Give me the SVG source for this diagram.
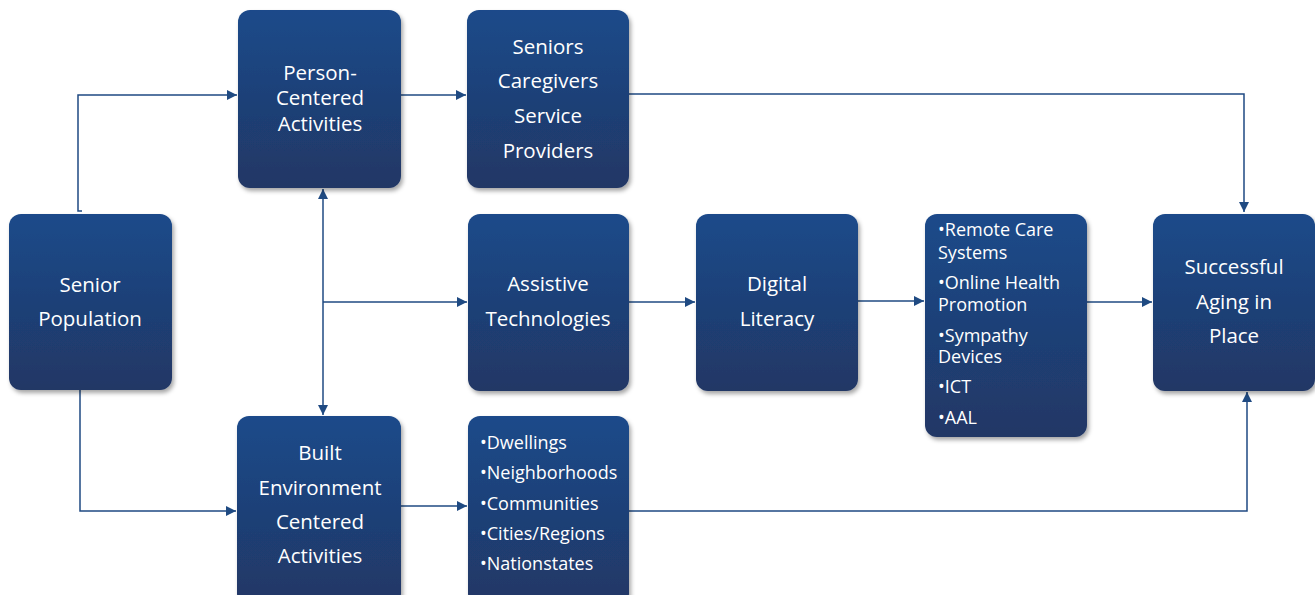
<svg xmlns="http://www.w3.org/2000/svg" width="1315" height="595" viewBox="0 0 1315 595">
<defs>
<linearGradient id="g" x1="0" y1="0" x2="0" y2="1">
<stop offset="0" stop-color="#1c4a8a"/>
<stop offset="1" stop-color="#213765"/>
</linearGradient>
<filter id="sh" x="-10%" y="-10%" width="125%" height="125%">
<feDropShadow dx="2" dy="3" stdDeviation="2" flood-color="#000" flood-opacity="0.35"/>
</filter>
<marker id="ah" viewBox="0 0 10 10" refX="10" refY="5" markerWidth="10" markerHeight="10" markerUnits="userSpaceOnUse" orient="auto-start-reverse">
<path d="M0,0 L10,5 L0,10 Z" fill="#1f4a82"/>
</marker>
<style>
.box{fill:url(#g);filter:url(#sh);}
.t{font-family:"Open Sans","Noto Sans",sans-serif;font-size:20.5px;fill:#fff;text-anchor:middle;}
.b{font-family:"Open Sans","Noto Sans",sans-serif;font-size:18px;fill:#fff;}
.c{fill:none;stroke:#1f4a82;stroke-width:1.5;}
</style>
</defs>
<rect width="1315" height="595" fill="#fff"/>
<g id="connectors">
<path class="c" d="M82,211 H78 V95 H237" marker-end="url(#ah)"/>
<path class="c" d="M80,390 V511 H236" marker-end="url(#ah)"/>
<path class="c" d="M401,95 H466" marker-end="url(#ah)"/>
<path class="c" d="M629,94 H1244 V212" marker-end="url(#ah)"/>
<path class="c" d="M323,189 V415" marker-start="url(#ah)" marker-end="url(#ah)"/>
<path class="c" d="M323,302 H467" marker-end="url(#ah)"/>
<path class="c" d="M629,302 H695" marker-end="url(#ah)"/>
<path class="c" d="M858,301 H924" marker-end="url(#ah)"/>
<path class="c" d="M1087,302 H1152" marker-end="url(#ah)"/>
<path class="c" d="M401,506 H467" marker-end="url(#ah)"/>
<path class="c" d="M629,511 H1247 V392" marker-end="url(#ah)"/>
</g>
<g id="senior-population">
<rect class="box" x="9" y="214" width="163" height="176" rx="12"/>
<text class="t" x="90" y="292">Senior</text>
<text class="t" x="90" y="326">Population</text>
</g>
<g id="person-centered">
<rect class="box" x="238" y="10" width="163" height="178" rx="12"/>
<text class="t" x="320" y="80">Person-</text>
<text class="t" x="320" y="105">Centered</text>
<text class="t" x="320" y="131">Activities</text>
</g>
<g id="seniors-caregivers">
<rect class="box" x="467" y="10" width="162" height="178" rx="12"/>
<text class="t" x="548" y="54">Seniors</text>
<text class="t" x="548" y="88">Caregivers</text>
<text class="t" x="548" y="123">Service</text>
<text class="t" x="548" y="158">Providers</text>
</g>
<g id="assistive-technologies">
<rect class="box" x="468" y="214" width="161" height="177" rx="12"/>
<text class="t" x="548" y="291">Assistive</text>
<text class="t" x="548" y="326">Technologies</text>
</g>
<g id="digital-literacy">
<rect class="box" x="696" y="214" width="162" height="177" rx="12"/>
<text class="t" x="777" y="291">Digital</text>
<text class="t" x="777" y="326">Literacy</text>
</g>
<g id="ict-list">
<rect class="box" x="925" y="214" width="162" height="223" rx="12"/>
<text class="b" x="938" y="236">•Remote Care</text>
<text class="b" x="938" y="259">Systems</text>
<text class="b" x="938" y="289">•Online Health</text>
<text class="b" x="938" y="311">Promotion</text>
<text class="b" x="938" y="342">•Sympathy</text>
<text class="b" x="938" y="363">Devices</text>
<text class="b" x="938" y="393">•ICT</text>
<text class="b" x="938" y="424">•AAL</text>
</g>
<g id="successful-aging">
<rect class="box" x="1153" y="214" width="162" height="177" rx="12"/>
<text class="t" x="1234" y="274">Successful</text>
<text class="t" x="1234" y="309">Aging in</text>
<text class="t" x="1234" y="343">Place</text>
</g>
<g id="built-environment">
<rect class="box" x="237" y="416" width="164" height="190" rx="12"/>
<text class="t" x="320" y="460">Built</text>
<text class="t" x="320" y="495">Environment</text>
<text class="t" x="320" y="529">Centered</text>
<text class="t" x="320" y="563">Activities</text>
</g>
<g id="built-list">
<rect class="box" x="468" y="416" width="161" height="190" rx="12"/>
<text class="b" x="480" y="449">•Dwellings</text>
<text class="b" x="480" y="479">•Neighborhoods</text>
<text class="b" x="480" y="510">•Communities</text>
<text class="b" x="480" y="540">•Cities/Regions</text>
<text class="b" x="480" y="570">•Nationstates</text>
</g>
</svg>
